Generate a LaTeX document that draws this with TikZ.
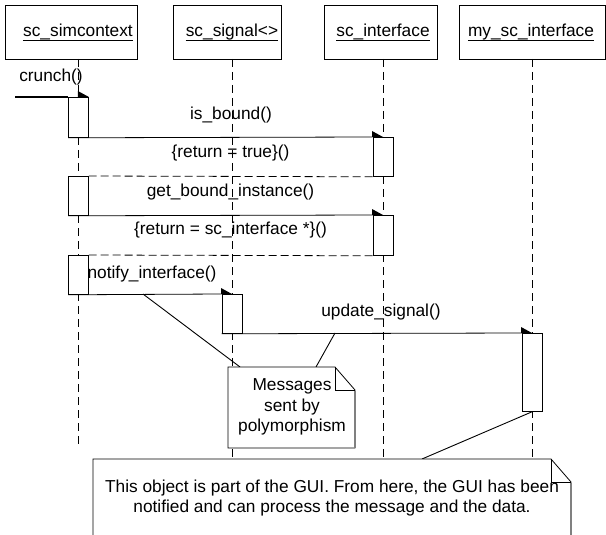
\documentclass[tikz,border=0pt]{standalone}
\usepackage{fontspec}
\setmainfont{Liberation Sans}
\begin{document}
\begin{tikzpicture}[x=1pt,y=-1pt,
  every node/.style={font=\fontsize{17.3}{20.5}\selectfont},
  objbox/.style={draw, line width=0.8pt, inner sep=0pt, anchor=north west},
  objlabel/.style={anchor=base, inner sep=0pt},
  uline/.style={line width=0.8pt},
  lifeline/.style={line width=0.8pt, dash pattern=on 8pt off 5pt},
  actbox/.style={draw, fill=white, line width=0.8pt, inner sep=0pt, anchor=north, minimum width=20pt},
  msg/.style={line width=0.8pt},
  ret/.style={line width=0.8pt, dash pattern=on 8pt off 4pt},
  msglabel/.style={inner sep=0pt},
  notebox/.style={draw, fill=white, line width=0.8pt},
  noteshade/.style={draw=gray, line width=1.4pt},
  notelink/.style={line width=0.9pt}
]
\useasboundingbox (0,0) rectangle (606,535);
\fill[white] (0,0) rectangle (606,535);
\clip (0,0) rectangle (606,535);

% object boxes
\node[objbox, minimum width=132pt, minimum height=54pt] (simbox) at (5,5) {};
\node[objbox, minimum width=108pt, minimum height=54pt] (sigbox) at (173,5) {};
\node[objbox, minimum width=113pt, minimum height=54pt] (intbox) at (324,5) {};
\node[objbox, minimum width=146pt, minimum height=54pt] (mybox) at (459,5) {};
\node[objlabel] (simlbl) at (78,37) {sc\_simcontext};
\node[objlabel] (siglbl) at (232,37) {sc\_signal<>};
\node[objlabel] (intlbl) at (383,37) {sc\_interface};
\node[objlabel] (mylbl) at (531,37) {my\_sc\_interface};
\foreach \n in {simlbl,siglbl,intlbl,mylbl}{
  \draw[uline] ([yshift=-3pt]\n.base west) -- ([yshift=-3pt]\n.base east);
}

% end points
\coordinate (simend) at (78,448);
\coordinate (gnw) at (93,459);

% lifelines
\draw[lifeline] (78,59) -- (simend);
\draw[lifeline] (232,59) -- (232,459);
\draw[lifeline] (383,59) -- (383,459);
\draw[lifeline] (532,59) -- (532,459);

% activations
\node[actbox, minimum height=40pt] (a1) at (78.5,97) {};
\node[actbox, minimum height=39pt] (i1) at (383,137) {};
\node[actbox, minimum height=39pt] (a2) at (78.5,176) {};
\node[actbox, minimum height=40pt] (i2) at (383,215) {};
\node[actbox, minimum height=39pt] (a3) at (78.5,255) {};
\node[actbox, minimum height=39pt] (s1) at (232,294) {};
\node[actbox, minimum height=78pt] (m1) at (532,333) {};

% messages
\coordinate (crstart) at (15,97);
\draw[line width=2pt] (crstart) -- (a1.north west);
\fill (a1.north east) -- ++(-11,0) -- ++(0,-6) -- cycle;

\draw[msg] (a1.south west) -- (i1.north west);
\fill (i1.north) -- ++(-11,0) -- ++(0,-6) -- cycle;

\draw[ret] (i1.south west) -- (a2.north east);

\draw[msg] (a2.south west) -- (i2.north west);
\fill (i2.north) -- ++(-11,0) -- ++(0,-6) -- cycle;

\draw[ret] (i2.south west) -- (a3.north east);

\draw[msg] (a3.south west) -- (s1.north west);
\fill (s1.north) -- ++(-11,0) -- ++(0,-6) -- cycle;

\draw[msg] (s1.south west) -- (m1.north west);
\fill (m1.north) -- ++(-11,0) -- ++(0,-6) -- cycle;

% message labels
\node[msglabel] (lcrunch) at (51,77) {crunch()};
\node[msglabel] (lbound) at (231,115) {is\_bound()};
\node[msglabel] (lrtrue) at (230.5,153) {\{return = true\}()};
\node[msglabel] (lgbi) at (230.5,192) {get\_bound\_instance()};
\node[msglabel] (lrsci) at (230.5,230) {\{return = sc\_interface *\}()};
\node[msglabel] (lnotify) at (152,274) {notify\_interface()};
\node[msglabel] (lupdate) at (381,312) {update\_signal()};

% note links
\coordinate (n1a) at (143,294);
\coordinate (n1b) at (240,367);
\coordinate (n2a) at (335,333);
\coordinate (n2b) at (316,367);
\coordinate (n3b) at (422,459);
\draw[notelink] (n1a) -- (n1b);
\draw[notelink] (n2a) -- (n2b);
\draw[notelink] (m1.south) -- (n3b);

% messages note
\draw[notebox] (228,367) -- (335,367) -- (355,390) -- (355,448) -- (228,448) -- cycle;
\draw[line width=0.8pt] (335,367) -- (335,390) -- (355,390);
\draw[noteshade] (355,391) -- (355,448);
\node[align=center, inner sep=0pt] (mnote) at (292,407) {Messages\\sent by\\polymorphism};

% GUI note
\draw[notebox] (gnw) -- (551,459) -- (571,482) -- (571,545) -- (93,545) -- cycle;
\draw[line width=0.8pt] (551,459) -- (551,482) -- (571,482);
\draw[noteshade] (571,483) -- (571,545);
\node[align=center, inner sep=0pt] (gnote) at (332,498) {This object is part of the GUI. From here, the GUI has been\\notified and can process the message and the data.};
\end{tikzpicture}
\end{document}
